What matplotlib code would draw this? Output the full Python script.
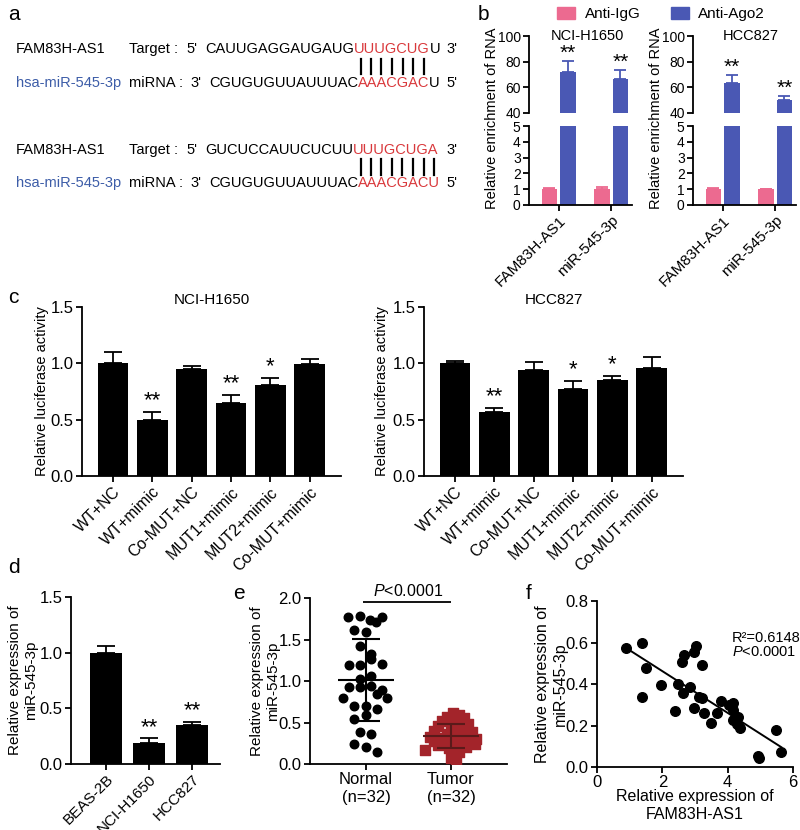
"""Five-panel figure: miR-545-3p binding, RIP, luciferase, qPCR and correlation."""

import numpy as np
import matplotlib

matplotlib.use("Agg")
import matplotlib.pyplot as plt
from matplotlib.patches import Patch
from matplotlib.font_manager import FontProperties

plt.rcParams["font.family"] = ["Liberation Sans", "DejaVu Sans"]
plt.rcParams["font.size"] = 10.5
plt.rcParams["mathtext.fontset"] = "custom"
plt.rcParams["mathtext.rm"] = "Liberation Sans"
plt.rcParams["mathtext.it"] = "Liberation Sans:italic"
plt.rcParams["axes.linewidth"] = 1.3
for axis in ("xtick", "ytick"):
    plt.rcParams[f"{axis}.major.width"] = 1.3
    plt.rcParams[f"{axis}.major.size"] = 4
    plt.rcParams[f"{axis}.major.pad"] = 2
    plt.rcParams[f"{axis}.direction"] = "out"
    plt.rcParams[f"{axis}.labelsize"] = 12

PINK = "#ec6a90"
BLUE = "#4a58b4"
RED = "#a3242a"
SEQ_RED = "#d9393c"
NAME_BLUE = "#3d5da8"

# panel a: (black prefix, red seed, black suffix)
TARGET_1 = ["CAUUGAGGAUGAUG", "UUUGCUG", "U"]
MIRNA_1 = ["CGUGUGUUAUUUAC", "AAACGAC", "U"]
TARGET_2 = ["GUCUCCAUUCUCUU", "UUUGCUGA", ""]
MIRNA_2 = ["CGUGUGUUAUUUAC", "AAACGACU", ""]

# panel b: RIP
RIP_TARGETS = ["FAM83H-AS1", "miR-545-3p"]
IGG_H1650 = [1.0, 1.0]
IGG_H1650_ERR = [0.05, 0.15]
AGO2_H1650 = [72.0, 66.8]
AGO2_H1650_ERR = [8.6, 7.0]
IGG_HCC827 = [1.0, 1.0]
IGG_HCC827_ERR = [0.1, 0.03]
AGO2_HCC827 = [63.5, 50.5]
AGO2_HCC827_ERR = [6.4, 3.0]

# panel c: luciferase
LUC_LABELS = ["WT+NC", "WT+mimic", "Co-MUT+NC", "MUT1+mimic", "MUT2+mimic", "Co-MUT+mimic"]
LUC_H1650 = [1.0, 0.50, 0.95, 0.65, 0.81, 0.99]
LUC_H1650_ERR = [0.10, 0.07, 0.03, 0.07, 0.06, 0.05]
LUC_H1650_SIG = ["", "**", "", "**", "*", ""]
LUC_HCC827 = [1.0, 0.57, 0.94, 0.77, 0.85, 0.96]
LUC_HCC827_ERR = [0.02, 0.03, 0.07, 0.07, 0.04, 0.10]
LUC_HCC827_SIG = ["", "**", "", "*", "*", ""]

# panel d: cell lines
CELL_LINES = ["BEAS-2B", "NCI-H1650", "HCC827"]
MIR_EXPR = [1.0, 0.19, 0.35]
MIR_EXPR_ERR = [0.06, 0.04, 0.03]
MIR_EXPR_SIG = ["", "**", "**"]

# panel e: tissues
TISSUE_LABELS = ["Normal\n(n=32)", "Tumor\n(n=32)"]
NORMAL = [1.77, 1.78, 1.74, 1.71, 1.77, 1.61, 1.59, 1.42, 1.32, 1.27, 1.19,
          1.19, 1.20, 1.06, 1.03, 0.93, 0.93, 0.94, 0.89, 0.80, 0.80, 0.84,
          0.70, 0.70, 0.66, 0.54, 0.59, 0.38, 0.36, 0.24, 0.20, 0.14]
NORMAL_JITTER = [-0.21, -0.07, 0.05, 0.12, 0.19, -0.14, 0.0, -0.07, 0.06,
                 0.06, -0.2, -0.07, 0.19, 0.06, -0.07, -0.2, -0.07, 0.06,
                 0.19, -0.27, 0.25, 0.13, -0.14, 0.0, 0.13, -0.14, 0.0,
                 -0.07, 0.06, -0.14, 0.0, 0.13]
TUMOR = [0.61, 0.59, 0.57, 0.55, 0.52, 0.50, 0.48, 0.46, 0.44, 0.42, 0.40,
         0.38, 0.36, 0.35, 0.33, 0.32, 0.31, 0.30, 0.29, 0.28, 0.27, 0.26,
         0.25, 0.24, 0.23, 0.22, 0.21, 0.19, 0.17, 0.15, 0.07, 0.03]
TUMOR_JITTER = [0.02, 0.1, -0.05, 0.15, -0.1, 0.05, 0.2, -0.15, 0.0, 0.12,
                -0.2, 0.25, -0.05, 0.08, -0.25, 0.18, -0.12, 0.3, 0.03, -0.2,
                0.22, -0.08, 0.12, 0.28, -0.15, 0.05, 0.18, -0.02, -0.3, 0.1,
                0.0, 0.06]

# panel f: correlation
FAM_EXPR = [0.90, 1.38, 1.51, 1.39, 1.97, 2.49, 2.40, 2.62, 2.59, 2.65, 2.84,
            2.96, 2.98, 3.03, 3.20, 3.11, 3.21, 3.27, 3.49, 3.67, 3.79, 4.03,
            4.15, 4.17, 4.15, 4.31, 4.29, 4.39, 4.92, 4.97, 5.47, 5.64]
MIR_PAIRED = [0.574, 0.598, 0.475, 0.339, 0.395, 0.400, 0.272, 0.358, 0.506,
              0.539, 0.384, 0.286, 0.554, 0.582, 0.491, 0.339, 0.331, 0.259,
              0.211, 0.259, 0.317, 0.299, 0.310, 0.275, 0.227, 0.243, 0.206,
              0.187, 0.054, 0.043, 0.179, 0.072]


def px_axes(fig, x0, y0, x1, y1):
    """Axes from pixel box (left, top, right, bottom) of the 800x830 canvas."""
    return fig.add_axes([x0 / 800, 1 - y1 / 830, (x1 - x0) / 800, (y1 - y0) / 830])


def style(ax):
    ax.spines["top"].set_visible(False)
    ax.spines["right"].set_visible(False)


def strand(ax, renderer, fp, y, name, name_color, kind, end_l, x_end_l, parts, x_seq, end_r):
    ax.text(16, y, name, color=name_color, va="center", fontproperties=fp)
    ax.text(129, y, kind, va="center", fontproperties=fp)
    ax.text(x_end_l, y, end_l, va="center", fontproperties=fp)
    x = x_seq
    centers = []
    for text, color in zip(parts, ["black", SEQ_RED, "black"]):
        if not text:
            continue
        if color == SEQ_RED:
            for i, ch in enumerate(text):
                w0 = renderer.get_text_width_height_descent(text[:i], fp, ismath=False)[0] if i else 0
                w1 = renderer.get_text_width_height_descent(ch, fp, ismath=False)[0]
                centers.append(x + w0 + w1 / 2)
        t = ax.text(x, y, text, color=color, va="center", fontproperties=fp)
        x = t.get_window_extent(renderer).x1
    ax.text(446, y, end_r, va="center", fontproperties=fp)
    return centers


def sig_bars(ax, labels, values, errs, sigs, width, yoff, tick_size):
    x = np.arange(len(labels))
    ax.bar(x, values, width, color="black")
    ax.errorbar(x, values, yerr=[np.zeros(len(x)), errs], fmt="none",
                ecolor="black", elinewidth=1.3, capsize=6.5, capthick=1.3)
    for xi, v, e, s in zip(x, values, errs, sigs):
        if s:
            ax.text(xi, v + e + yoff, s, ha="center", va="center", fontsize=16)
    ax.set_xticks(x)
    ax.set_xticklabels(labels, rotation=45, ha="right", rotation_mode="anchor",
                       fontsize=tick_size)
    style(ax)


def rip_panel(fig, x0, igg, igg_err, ago, ago_err, title, ylab_x):
    x = np.arange(len(RIP_TARGETS))
    top = px_axes(fig, x0, 36, x0 + 103, 113)
    bot = px_axes(fig, x0, 126, x0 + 103, 205)
    for ax in (top, bot):
        ax.bar(x - 0.18, igg, 0.3, color=PINK)
        ax.bar(x + 0.18, ago, 0.3, color=BLUE)
        ax.set_xlim(-0.57, 1.4)
        ax.tick_params(axis="y", labelsize=10)
        style(ax)
    zeros = np.zeros(len(x))
    top.errorbar(x + 0.18, ago, yerr=[zeros, ago_err], fmt="none", ecolor=BLUE,
                 elinewidth=1.3, capsize=4, capthick=1.3)
    bot.errorbar(x - 0.18, igg, yerr=[zeros, igg_err], fmt="none", ecolor=PINK,
                 elinewidth=1.3, capsize=4, capthick=1.3)
    for xi, v, e in zip(x, ago, ago_err):
        top.text(xi + 0.18, v + e + 6, "**", ha="center", va="center", fontsize=15)
    top.set_ylim(40, 100)
    top.set_yticks([40, 60, 80, 100])
    top.spines["bottom"].set_visible(False)
    top.set_xticks([])
    bot.set_ylim(0, 5)
    bot.set_yticks(range(6))
    bot.set_xticks(x)
    bot.set_xticklabels(RIP_TARGETS, rotation=45, ha="right", rotation_mode="anchor",
                        fontsize=11)
    fig.text((x0 + 58) / 800, 1 - 36 / 830, title, ha="center", va="center")
    fig.text(ylab_x / 800, 1 - 118 / 830, "Relative enrichment of RNA",
             rotation=90, ha="center", va="center")


def main():
    fig = plt.figure(figsize=(8, 8.3), dpi=100)
    ax0 = fig.add_axes([0, 0, 1, 1])
    ax0.set_xlim(0, 800)
    ax0.set_ylim(830, 0)
    ax0.axis("off")
    renderer = fig.canvas.get_renderer()
    fp = FontProperties(family=["Liberation Sans"], size=10.5)

    for letter, lx, ly in [("a", 8, 15), ("b", 478, 15), ("c", 8, 297),
                           ("d", 8, 567), ("e", 233, 593), ("f", 526, 593)]:
        ax0.text(lx, ly, letter, fontsize=15, va="center", ha="left")

    # panel a
    for (tgt, mir), (yt, ym, p0, p1) in zip(
        [(TARGET_1, MIRNA_1), (TARGET_2, MIRNA_2)],
        [(49, 83, 59, 74), (150, 183, 159, 175)],
    ):
        c1 = strand(ax0, renderer, fp, yt, "FAM83H-AS1", "black", "Target :",
                    "5'", 186, tgt, 205, "3'")
        c2 = strand(ax0, renderer, fp, ym, "hsa-miR-545-3p", NAME_BLUE, "miRNA :",
                    "3'", 190, mir, 209, "5'")
        for a, b in zip(c1, c2):
            xm = (a + b) / 2
            ax0.plot([xm, xm], [p0, p1], color="black", lw=1.6)

    # panel b
    rip_panel(fig, 529, IGG_H1650, IGG_H1650_ERR, AGO2_H1650, AGO2_H1650_ERR,
              "NCI-H1650", 492)
    rip_panel(fig, 693, IGG_HCC827, IGG_HCC827_ERR, AGO2_HCC827, AGO2_HCC827_ERR,
              "HCC827", 656)
    fig.legend(handles=[Patch(color=PINK, label="Anti-IgG"),
                        Patch(color=BLUE, label="Anti-Ago2")],
               loc="center", bbox_to_anchor=(661 / 800, 1 - 14 / 830), ncol=2,
               frameon=False, handlelength=1.2, handleheight=0.8,
               handletextpad=0.6, columnspacing=2.0, fontsize=11)

    # panel c
    for x0, vals, errs, sigs, title, lab_x in [
        (82, LUC_H1650, LUC_H1650_ERR, LUC_H1650_SIG, "NCI-H1650", -0.128),
        (424, LUC_HCC827, LUC_HCC827_ERR, LUC_HCC827_SIG, "HCC827", -0.135),
    ]:
        ax = px_axes(fig, x0, 307, x0 + 259, 476)
        sig_bars(ax, LUC_LABELS, vals, errs, sigs, 0.78, 0.1, 11.5)
        ax.set_xlim(-0.79, 5.8)
        ax.set_ylim(0, 1.5)
        ax.set_yticks([0, 0.5, 1.0, 1.5])
        ax.set_yticklabels(["0.0", "0.5", "1.0", "1.5"])
        ax.set_ylabel("Relative luciferase activity", fontsize=10.5)
        ax.yaxis.set_label_coords(lab_x, 0.5)
        ax.set_title(title, fontsize=11, pad=-6)

    # panel d
    ax = px_axes(fig, 71, 597, 220, 764)
    sig_bars(ax, CELL_LINES, MIR_EXPR, MIR_EXPR_ERR, MIR_EXPR_SIG, 0.76, 0.1, 11)
    ax.set_xlim(-0.81, 2.65)
    ax.set_ylim(0, 1.5)
    ax.set_yticks([0, 0.5, 1.0, 1.5])
    ax.set_yticklabels(["0.0", "0.5", "1.0", "1.5"])
    ax.set_ylabel("Relative expression of\nmiR-545-3p", fontsize=11)
    ax.yaxis.set_label_coords(-0.22, 0.5)

    # panel e
    ax = px_axes(fig, 310, 598, 507, 764)
    normal = np.array(NORMAL)
    tumor = np.array(TUMOR)
    ax.scatter(np.array(NORMAL_JITTER), normal, s=38, color="black", zorder=3)
    ax.scatter(1 + np.array(TUMOR_JITTER), tumor, s=55, marker="s", color=RED, zorder=3)
    for xc, vals, col in [(0, normal, "black"), (1, tumor, "#5a1a1a")]:
        m, sd = vals.mean(), vals.std(ddof=1)
        ax.hlines(m, xc - 0.33, xc + 0.33, color=col, lw=1.5, zorder=4)
        ax.hlines([m - sd, m + sd], xc - 0.17, xc + 0.17, color=col, lw=1.5, zorder=4)
        ax.vlines(xc, m - sd, m + sd, color=col, lw=1.5, zorder=4)
    ax.hlines(1.95, -0.03, 1.0, color="black", lw=1.3)
    ax.text(0.5, 1.99, "$P$<0.0001", ha="center", va="bottom", fontsize=11.5)
    ax.set_xlim(-0.66, 1.66)
    ax.set_ylim(0, 2.0)
    ax.set_yticks([0, 0.5, 1.0, 1.5, 2.0])
    ax.set_yticklabels(["0.0", "0.5", "1.0", "1.5", "2.0"])
    ax.set_xticks([0, 1])
    ax.set_xticklabels(TISSUE_LABELS)
    ax.set_ylabel("Relative expression of\nmiR-545-3p", fontsize=11)
    ax.yaxis.set_label_coords(-0.15, 0.5)
    style(ax)

    # panel f
    ax = px_axes(fig, 597, 601, 793, 767)
    fx = np.array(FAM_EXPR)
    fy = np.array(MIR_PAIRED)
    ax.scatter(fx, fy, s=48, color="black", zorder=3)
    slope, icpt = np.polyfit(fx, fy, 1)
    xs = np.array([fx.min(), fx.max()])
    ax.plot(xs, slope * xs + icpt, color="black", lw=1.4)
    ax.text(0.69, 0.78, "R²=0.6148", transform=ax.transAxes, va="center", fontsize=10.5)
    ax.text(0.69, 0.69, "$P$<0.0001", transform=ax.transAxes, va="center", fontsize=10.5)
    ax.set_xlim(0, 6)
    ax.set_ylim(0, 0.8)
    ax.set_xticks([0, 2, 4, 6])
    ax.set_yticks([0, 0.2, 0.4, 0.6, 0.8])
    ax.set_yticklabels(["0.0", "0.2", "0.4", "0.6", "0.8"])
    ax.set_xlabel("Relative expression of\nFAM83H-AS1", fontsize=11.5)
    ax.xaxis.set_label_coords(0.5, -0.135)
    ax.set_ylabel("Relative expression of\nmiR-545-3p", fontsize=11.5)
    ax.yaxis.set_label_coords(-0.15, 0.5)
    style(ax)

    fig.savefig("out.png", dpi=100)
    plt.close(fig)


if __name__ == "__main__":
    main()
